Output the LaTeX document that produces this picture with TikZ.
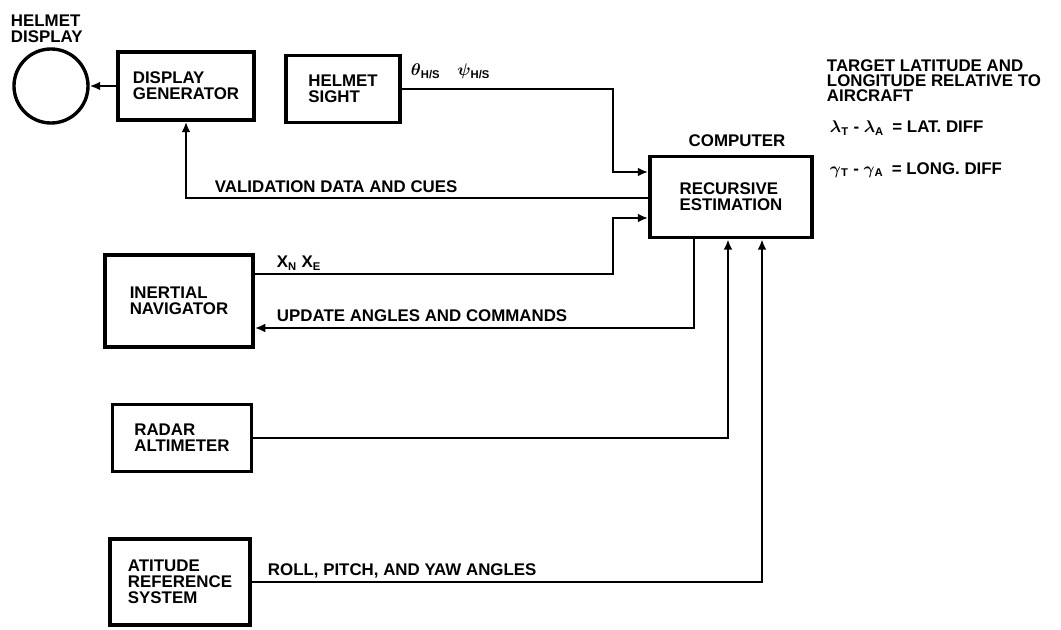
\documentclass[tikz,border=0pt]{standalone}
\usepackage{fontspec}
\setmainfont{Liberation Sans}
\usetikzlibrary{arrows.meta}

\begin{document}
\begin{tikzpicture}[x=0.025cm,y=-0.025cm,
  every node/.style={font=\bfseries\fontsize{12}{11.5}\selectfont},
  box/.style={draw,line width=2.6pt,align=left},
  line/.style={line width=2.1pt},
  link/.style={line,-{Latex[length=2.6mm,width=2.2mm]}}]
  \useasboundingbox (0,0) rectangle (1061,630);
  % blocks
  \node[anchor=north west,align=left] (hdtext) at (6,10) {HELMET\\DISPLAY};
  \node[draw,circle,line width=2.4pt,minimum size=1.85cm] (hd) at (51,86) {};
  \node[box,minimum width=3.4cm,minimum height=1.7cm] (gen) at (186,86) {DISPLAY\\GENERATOR};
  \node[box,minimum width=2.85cm,minimum height=1.675cm] (sight) at (343,89) {HELMET\\SIGHT};
  \node[box,minimum width=4.05cm,minimum height=2.025cm] (comp) at (731,197) {RECURSIVE\\ESTIMATION};
  \node (comptext) at (737,141) {COMPUTER};
  \node[box,minimum width=3.7cm,minimum height=2.3cm] (inert) at (179,301) {INERTIAL\\NAVIGATOR};
  \node[box,minimum width=3.475cm,minimum height=1.675cm] (radar) at (182,438) {RADAR\\ALTIMETER};
  \node[box,minimum width=3.5cm,minimum height=2.15cm] (att) at (180,582) {ATITUDE\\REFERENCE\\SYSTEM};
  % target note
  \node[anchor=north west,align=left,font=\bfseries\fontsize{12}{10.6}\selectfont] (tgt) at (822,55)
    {TARGET LATITUDE AND\\LONGITUDE RELATIVE TO\\AIRCRAFT};
  \node[anchor=west,font=\bfseries\boldmath\fontsize{12}{11.5}\selectfont] (lat) at (825,128)
    {$\lambda$\textsubscript{T} - $\lambda$\textsubscript{A}\enspace = LAT. DIFF};
  \node[anchor=west,font=\bfseries\boldmath\fontsize{12}{11.5}\selectfont] (lon) at (825,170)
    {$\gamma$\textsubscript{T} - $\gamma$\textsubscript{A}\enspace = LONG. DIFF};
  % connectors
  \draw[link] (gen.west) -- (hd.east);
  \draw[link] (sight.east) -| (613,172) -- (comp.west |- 0,172);
  \draw[link] (comp.west |- 0,198) -| (gen.south);
  \draw[link] (inert.east |- 0,274) -| (613,218) -- (comp.west |- 0,218);
  \draw[link] (comp.south -| 694,0) |- (inert.east |- 0,328);
  \draw[link] (radar.east) -| (comp.south -| 728,0);
  \draw[link] (att.east) -| (comp.south -| 762,0);
  % line labels
  \node[anchor=base west,font=\bfseries\boldmath\fontsize{12}{11.5}\selectfont] (angles) at (406,76)
    {$\theta$\textsubscript{H/S}\quad$\psi$\textsubscript{H/S}};
  \node[anchor=base west] (valid) at (210,193) {VALIDATION DATA AND CUES};
  \node[anchor=base west] (pos) at (272,268) {X\textsubscript{N} X\textsubscript{E}};
  \node[anchor=base west] (upd) at (272,322) {UPDATE ANGLES AND COMMANDS};
  \node[anchor=base west] (rpy) at (263,575) {ROLL, PITCH, AND YAW ANGLES};
\end{tikzpicture}
\end{document}
